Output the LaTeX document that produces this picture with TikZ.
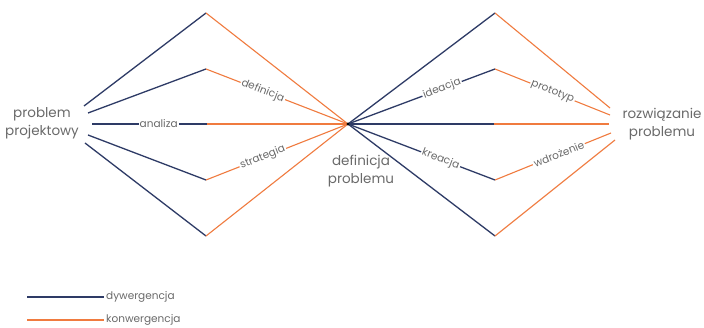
\documentclass[tikz,border=0pt]{standalone}
\usepackage{fontspec}
\setmainfont{Poppins}
\definecolor{divc}{HTML}{2E3B66}
\definecolor{conc}{HTML}{F07B3F}
\definecolor{txtc}{HTML}{6A6A6A}
\tikzset{
  dv/.style={draw=divc, line width=1.3pt},
  cv/.style={draw=conc, line width=1.1pt},
  lbl/.style={fill=white, text=txtc, font=\fontsize{10.5}{11}\selectfont, inner sep=1.2pt, sloped},
  big/.style={text=txtc, font=\fontsize{13.5}{18}\selectfont, align=center, inner sep=0pt},
  leg/.style={text=txtc, font=\fontsize{10.5}{11}\selectfont, anchor=west, inner sep=0pt}
}
\begin{document}
\begin{tikzpicture}[x=1pt,y=-1pt]
\useasboundingbox (0,0) rectangle (704,328);
\fill[white] (0,0) rectangle (704,328);
\coordinate (C) at (348,124);
\coordinate (L1) at (84,106);
\coordinate (L2) at (88,113);
\coordinate (L3) at (92,124);
\coordinate (L4) at (88,135);
\coordinate (L5) at (85,143);
\coordinate (A1) at (206,13);
\coordinate (A2) at (206,69);
\coordinate (A3) at (207,124);
\coordinate (A4) at (206,180);
\coordinate (A5) at (206,236);
\coordinate (B1) at (495,13);
\coordinate (B2) at (495,69);
\coordinate (B3) at (494,124);
\coordinate (B4) at (495,180);
\coordinate (B5) at (495,236);
\coordinate (R1) at (610,108);
\coordinate (R2) at (610,115);
\coordinate (R3) at (609,124);
\coordinate (R4) at (611,133);
\coordinate (R5) at (615,140);
% left divergence
\draw[dv] (L1) -- (A1);
\draw[dv] (L2) -- (A2);
\draw[dv] (L3) -- node[lbl, pos=0.58]{analiza} (A3);
\draw[dv] (L4) -- (A4);
\draw[dv] (L5) -- (A5);
% left convergence
\draw[cv] (A1) -- (C);
\draw[cv] (A2) -- node[lbl, pos=0.40]{definicja} (C);
\draw[cv] (A3) -- (C);
\draw[cv] (A4) -- node[lbl, pos=0.40]{strategia} (C);
\draw[cv] (A5) -- (C);
% right divergence
\draw[dv] (C) -- (B1);
\draw[dv] (C) -- node[lbl, pos=0.64]{ideacja} (B2);
\draw[dv] (C) -- (B3);
\draw[dv] (C) -- node[lbl, pos=0.63]{kreacja} (B4);
\draw[dv] (C) -- (B5);
% right convergence
\draw[cv] (B1) -- (R1);
\draw[cv] (B2) -- node[lbl, pos=0.5]{prototyp} (R2);
\draw[cv] (B3) -- (R3);
\draw[cv] (B4) -- node[lbl, pos=0.55]{wdrożenie} (R4);
\draw[cv] (B5) -- (R5);
\fill[black] (C) circle (1.6);
% big labels
\node[big] (pp) at (42,123) {problem\\projektowy};
\node[big] (rp) at (662,124) {rozwiązanie\\problemu};
\node[big] (dp) at (361,171) {definicja\\problemu};
% legend
\coordinate (g1a) at (27,297);
\coordinate (g1b) at (104,297);
\coordinate (g2a) at (27,320);
\coordinate (g2b) at (104,320);
\draw[dv] (g1a) -- (g1b);
\draw[cv] (g2a) -- (g2b);
\node[leg] (ld) at (106,297) {dywergencja};
\node[leg] (lk) at (106,320) {konwergencja};
\end{tikzpicture}
\end{document}
